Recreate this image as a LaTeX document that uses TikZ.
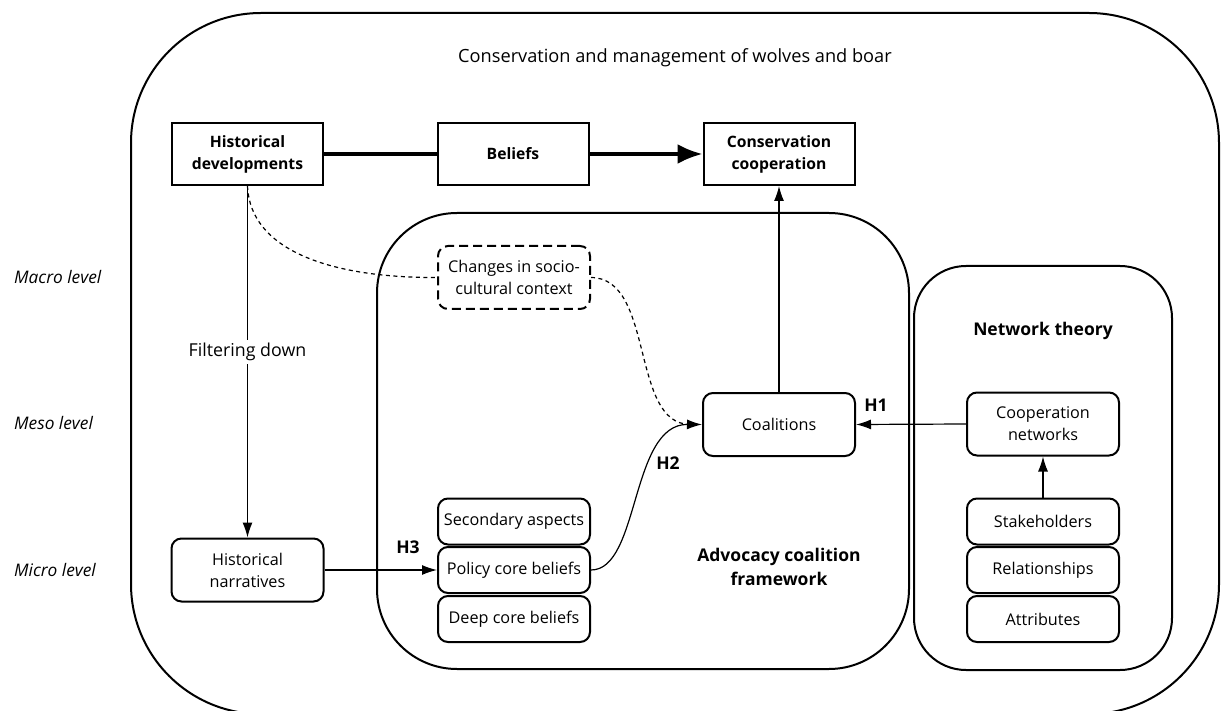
\documentclass[tikz,border=0pt]{standalone}
\usepackage{fontspec}
\setmainfont{Open Sans}
\usetikzlibrary{arrows.meta}
\begin{document}
\begin{tikzpicture}[x=1pt,y=-1pt,
  every node/.style={inner sep=0pt, align=center, font=\fontsize{16.2}{22}\selectfont},
  boldtext/.style={font=\fontsize{15.7}{22}\selectfont\bfseries},
  biglabel/.style={font=\fontsize{17.5}{24}\selectfont\bfseries},
  container/.style={draw, line width=2pt},
  sqbox/.style={draw, line width=2pt, minimum width=151pt, minimum height=62pt, boldtext},
  rbox/.style={draw, line width=2pt, rounded corners=10pt, minimum width=152pt, minimum height=63pt},
  stackbox/.style={rbox, minimum height=46pt},
  dashbox/.style={rbox, dash pattern=on 9pt off 5pt},
  levellabel/.style={anchor=west, font=\fontsize{17.3}{22}\selectfont\itshape},
  thinarrow/.style={line width=1.2pt, -{Latex[length=15pt,width=10pt]}},
  heavyline/.style={line width=3.5pt},
  dashconn/.style={line width=1.2pt, dash pattern=on 4pt off 3.5pt},
]
\useasboundingbox (0,0) rectangle (1221,711);
\clip (0,0) rectangle (1221,711);

% containers
\node[container, rounded corners=130pt, minimum width=1088pt, minimum height=701pt] (outer) at (675,363.5) {};
\node[container, rounded corners=80pt, minimum width=532pt, minimum height=456pt] (acf) at (643,441) {};
\node[container, rounded corners=52pt, minimum width=258pt, minimum height=404pt] (nt) at (1043,468) {};

% titles and level labels
\node[font=\fontsize{18.2}{22}\selectfont] (title) at (675,58) {Conservation and management of wolves and boar};
\node[levellabel] (macro) at (14,277) {Macro level};
\node[levellabel] (meso) at (14,423) {Meso level};
\node[levellabel] (micro) at (14,570) {Micro level};
\node[biglabel] (ntlabel) at (1043,331) {Network theory};
\node[biglabel] (acflabel) at (779,567) {Advocacy coalition\\framework};

% top row
\node[sqbox] (hd) at (247.5,154) {Historical\\developments};
\node[sqbox] (bel) at (513,154) {Beliefs};
\node[sqbox] (cc) at (779,154) {Conservation\\cooperation};

% inner boxes
\node[dashbox] (csc) at (514,277.5) {Changes in socio-\\cultural context};
\node[rbox] (coal) at (779,424.5) {Coalitions};
\node[rbox] (hn) at (247.5,570) {Historical\\narratives};
\node[stackbox] (sec) at (514,521.5) {Secondary aspects};
\node[stackbox] (pcb) at (514,570) {Policy core beliefs};
\node[stackbox] (dcb) at (514,619) {Deep core beliefs};
\node[rbox] (cn) at (1043,424) {Cooperation\\networks};
\node[stackbox] (stake) at (1043,521.5) {Stakeholders};
\node[stackbox] (rel) at (1043,570) {Relationships};
\node[stackbox] (attr) at (1043,619) {Attributes};

% connectors
\draw[heavyline] (hd) -- (bel);
\draw[heavyline, -{Latex[length=25pt,width=20pt]}] (bel) -- (cc);
\draw[thinarrow] (coal.north) -- (cc.south);
\draw[thinarrow] (hd.south) -- node[pos=0.473, fill=white, inner sep=3pt, font=\fontsize{17.8}{22}\selectfont] (filter) {Filtering down} (hn.north);
\draw[dashconn] (hd.south) .. controls (250,250) and (330,278) .. (csc.west);
\draw[dashconn, shorten >=12pt] (csc.east) .. controls (655,278) and (630,424) .. (coal.west);
\draw[thinarrow] (hn.east) -- (pcb.west);
\draw[thinarrow] (pcb.east) .. controls (640,570) and (630,424) .. (coal.west);
\draw[thinarrow] (cn.west) -- (coal.east);
\draw[thinarrow] (stake.north) -- (cn.south);

% hypothesis labels
\node[biglabel] (h1) at (876,405) {H1};
\node[biglabel] (h2) at (668,463) {H2};
\node[biglabel] (h3) at (408,547) {H3};
\end{tikzpicture}
\end{document}
